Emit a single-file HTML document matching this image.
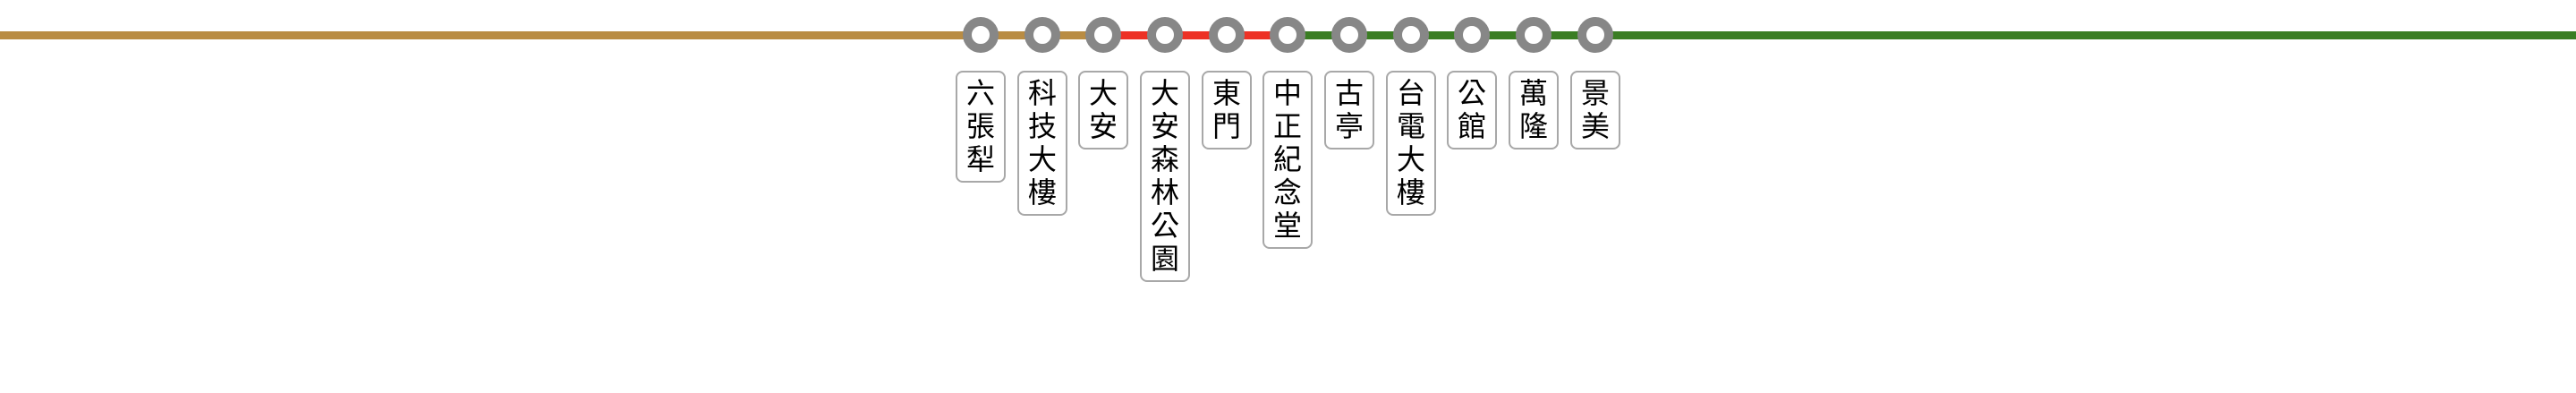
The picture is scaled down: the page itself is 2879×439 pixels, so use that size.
<!DOCTYPE html>
<html><head><meta charset="utf-8"><style>
html,body{margin:0;padding:0;background:#fff;}
body{width:2879px;height:439px;position:relative;overflow:hidden;}
.seg{position:absolute;top:35px;height:9px;}
.c{position:absolute;top:19px;width:20px;height:20px;border:10px solid #878787;border-radius:50%;background:#fff;box-sizing:content-box;}
.b{position:absolute;top:79px;width:52px;border:2px solid #a8a8a8;border-radius:8px;background:#fff;
font-family:"Liberation Sans","Noto Sans CJK TC",sans-serif;font-size:32px;line-height:37px;text-align:center;padding:5px 0 5px;color:#000;}
</style></head><body>
<div class="seg" style="left:0;width:1234px;background:#b98c43"></div>
<div class="seg" style="left:1234px;width:206px;background:#ed3125"></div>
<div class="seg" style="left:1440px;width:1439px;background:#3a7d23"></div>
<div class="c" style="left:1076px"></div>
<div class="c" style="left:1145px"></div>
<div class="c" style="left:1213px"></div>
<div class="c" style="left:1282px"></div>
<div class="c" style="left:1351px"></div>
<div class="c" style="left:1419px"></div>
<div class="c" style="left:1488px"></div>
<div class="c" style="left:1557px"></div>
<div class="c" style="left:1625px"></div>
<div class="c" style="left:1694px"></div>
<div class="c" style="left:1763px"></div>
<div class="b" style="left:1068px">六<br>張<br>犁</div>
<div class="b" style="left:1137px">科<br>技<br>大<br>樓</div>
<div class="b" style="left:1205px">大<br>安</div>
<div class="b" style="left:1274px">大<br>安<br>森<br>林<br>公<br>園</div>
<div class="b" style="left:1343px">東<br>門</div>
<div class="b" style="left:1411px">中<br>正<br>紀<br>念<br>堂</div>
<div class="b" style="left:1480px">古<br>亭</div>
<div class="b" style="left:1549px">台<br>電<br>大<br>樓</div>
<div class="b" style="left:1617px">公<br>館</div>
<div class="b" style="left:1686px">萬<br>隆</div>
<div class="b" style="left:1755px">景<br>美</div>
</body></html>
